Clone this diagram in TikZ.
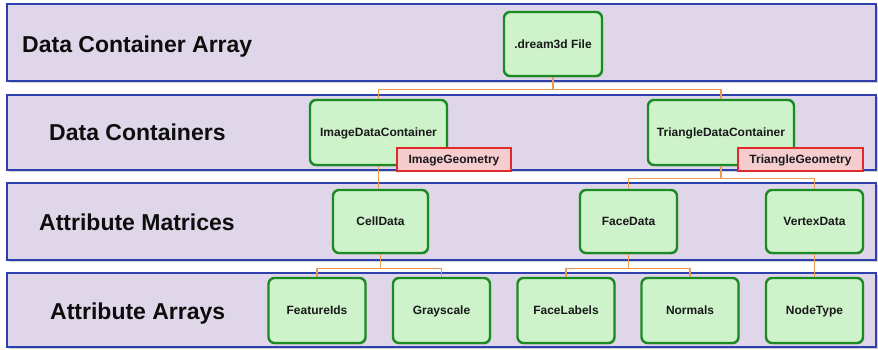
\documentclass[tikz,border=0pt]{standalone}
\usepackage{fontspec}
\setmainfont{Liberation Sans}
\usetikzlibrary{shadows}
\definecolor{bandfill}{HTML}{DFD7E9}
\definecolor{bandline}{HTML}{2E40AE}
\definecolor{nodefill}{HTML}{CEF3CB}
\definecolor{nodeline}{HTML}{1C8A22}
\definecolor{geofill}{HTML}{F5CDCF}
\definecolor{geoline}{HTML}{E12B2B}
\definecolor{connline}{HTML}{EA9A55}
\tikzset{
  band/.style={draw=bandline, line width=2pt, fill=bandfill, inner sep=0pt,
    drop shadow={shadow xshift=1.5pt, shadow yshift=-2pt, opacity=0.35}},
  bandlabel/.style={anchor=west, font=\fontsize{23}{26}\selectfont\bfseries, text=black!95,
    text height=17pt, text depth=0.5pt, inner sep=0pt},
  dnode/.style={draw=nodeline, line width=2.4pt, fill=nodefill, rounded corners=6pt,
    font=\fontsize{12}{14}\selectfont\bfseries, text=black!90, inner sep=0pt,
    text height=9.5pt, text depth=1pt,
    drop shadow={shadow xshift=1pt, shadow yshift=-1.5pt, opacity=0.3}},
  geo/.style={draw=geoline, line width=2pt, fill=geofill,
    font=\fontsize{12}{14}\selectfont\bfseries, text=black!90, inner sep=0pt,
    text height=9.5pt, text depth=1pt,
    minimum width=114pt, minimum height=23pt},
  conn/.style={draw=connline, line width=1.3pt}
}
\begin{document}
\begin{tikzpicture}[x=1pt,y=-1pt]
\useasboundingbox (0,0) rectangle (878,349);
\fill[white] (0,0) rectangle (878,349);
% bands
\node[band, minimum width=869pt, minimum height=77pt] (b1) at (441.5,42.5) {};
\node[band, minimum width=869pt, minimum height=75pt] (b2) at (441.5,132.5) {};
\node[band, minimum width=869pt, minimum height=77pt] (b3) at (441.5,221.5) {};
\node[band, minimum width=869pt, minimum height=74pt] (b4) at (441.5,310) {};
% band labels
\node[bandlabel] (l1) at (22,44) {Data Container Array};
\node[bandlabel] (l2) at (49,132) {Data Containers};
\node[bandlabel] (l3) at (39,222) {Attribute Matrices};
\node[bandlabel] (l4) at (50,311) {Attribute Arrays};
% nodes
\node[dnode, minimum width=98pt, minimum height=64pt] (file) at (553,44) {.dream3d File};
\node[dnode, minimum width=137pt, minimum height=65pt] (idc) at (378.5,132.5) {ImageDataContainer};
\node[dnode, minimum width=146pt, minimum height=65pt] (tdc) at (721,132.5) {TriangleDataContainer};
\node[dnode, minimum width=95pt, minimum height=63pt] (cell) at (380.5,221.5) {CellData};
\node[dnode, minimum width=97pt, minimum height=63pt] (face) at (628.5,221.5) {FaceData};
\node[dnode, minimum width=97pt, minimum height=63pt] (vert) at (814.5,221.5) {VertexData};
\node[dnode, minimum width=97pt, minimum height=65pt] (fid) at (317,310.5) {FeatureIds};
\node[dnode, minimum width=97pt, minimum height=65pt] (gray) at (441.5,310.5) {Grayscale};
\node[dnode, minimum width=97pt, minimum height=65pt] (flab) at (566,310.5) {FaceLabels};
\node[dnode, minimum width=97pt, minimum height=65pt] (norm) at (690,310.5) {Normals};
\node[dnode, minimum width=97pt, minimum height=65pt] (ntype) at (814.5,310.5) {NodeType};
% connectors
\draw[conn] (file.south) -- ++(0,12) -| (idc.north);
\draw[conn] (file.south) -- ++(0,12) -| (tdc.north);
\draw[conn] (idc.south) -- (idc.south |- cell.north);
\draw[conn] (tdc.south) -- ++(0,12) -| (face.north);
\draw[conn] (tdc.south) -- ++(0,12) -| (vert.north);
\draw[conn] (cell.south) -- ++(0,14) -| (fid.north);
\draw[conn] (cell.south) -- ++(0,14) -| (gray.north);
\draw[conn] (face.south) -- ++(0,14) -| (flab.north);
\draw[conn] (face.south) -- ++(0,14) -| (norm.north);
\draw[conn] (vert.south) -- (ntype.north);
% geometry tags
\node[geo] (igeo) at (454,159.5) {ImageGeometry};
\node[geo, minimum width=125pt] (tgeo) at (800.5,159.5) {TriangleGeometry};
\end{tikzpicture}
\end{document}
